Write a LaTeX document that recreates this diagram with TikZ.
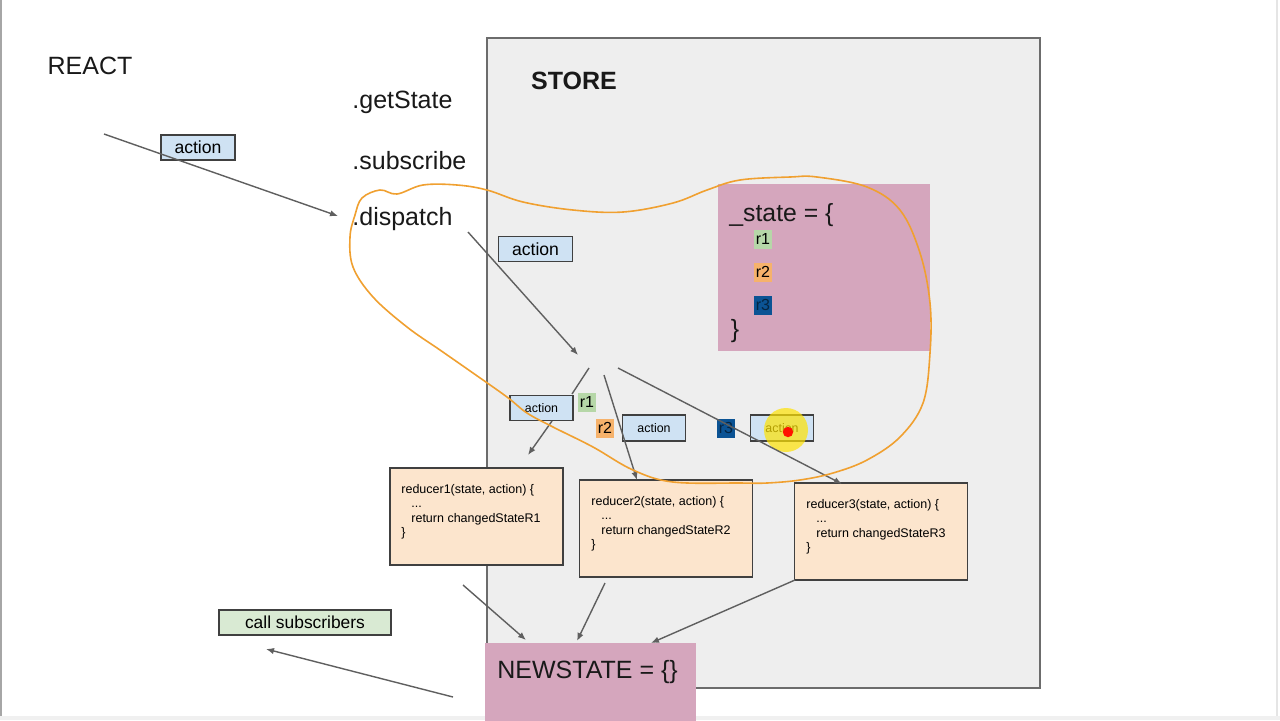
\documentclass[tikz,border=0pt]{standalone}
\usepackage{fontspec}
\setmainfont{Liberation Sans}
\usetikzlibrary{arrows.meta}
\definecolor{storegray}{HTML}{EEEEEE}
\definecolor{pinkbox}{HTML}{D5A6BD}
\definecolor{actblue}{HTML}{CFE2F3}
\definecolor{redfill}{HTML}{FCE5CD}
\definecolor{subgreen}{HTML}{D9EAD3}
\definecolor{tagone}{HTML}{B6D7A8}
\definecolor{tagtwo}{HTML}{F6B26B}
\definecolor{tagthree}{HTML}{0B5394}
\definecolor{loopcolor}{HTML}{F0A030}
\definecolor{arrowgray}{HTML}{5F5F5F}
\begin{document}
\begin{tikzpicture}[x=0.5pt,y=-0.5pt,
	big/.style={inner sep=0pt,text=black!90,font=\fontsize{12.5}{15}\selectfont},
	actbox/.style={draw=black!75,fill=actblue,line width=0.7pt,inner sep=0pt,font=\fontsize{8.8}{10}\selectfont,minimum width=37pt,minimum height=12.5pt},
	smallact/.style={actbox,font=\fontsize{6.2}{7}\selectfont,minimum width=31.5pt,minimum height=12.5pt},
	rtag/.style={inner sep=0.8pt,minimum height=9.5pt,font=\fontsize{8}{9}\selectfont},
	redbox/.style={draw=black!75,fill=redfill,line width=0.7pt,minimum width=86.5pt,minimum height=48.5pt},
	code/.style={inner sep=0pt,align=left,anchor=north west,font=\fontsize{6.25}{7.25}\selectfont},
	flow/.style={draw=arrowgray,line width=0.7pt,-{Latex[length=4pt,width=3.2pt]}}]

		\useasboundingbox (0,0) rectangle (1280,720);
		\fill[white] (0,0) rectangle (1280,720);
		\fill[gray!12] (0,716) rectangle (1280,720);
		\draw[gray!70,line width=0.6pt] (1,0) -- (1,716);
		\draw[gray!20,line width=0.6pt] (1277,0) -- (1277,716);

		%store
		\node[draw=gray!85!black,fill=storegray,line width=0.8pt,minimum width=276.5pt,minimum height=325pt] (store) at (763.5,363) {};
		\node[big,font=\fontsize{12.5}{15}\selectfont\bfseries] (storelbl) at (574,81) {STORE};

		%left texts
		\node[big] (react) at (90,66) {REACT};
		\node[big,anchor=west] (get) at (352,102) {.getState};
		\node[big,anchor=west] (sub) at (352,161) {.subscribe};
		\node[big,anchor=west] (disp) at (352,219) {.dispatch};
		\node[actbox] (act1) at (198,147.5) {action};
		\node[actbox] (act2) at (535.5,249) {action};

		%state
		\node[fill=pinkbox,minimum width=106pt,minimum height=83.5pt] (state) at (824,267.5) {};
		\node[big,anchor=west,font=\fontsize{12.4}{15}\selectfont] (stxt) at (729,215) {\_state = \{};
		\node[rtag,fill=tagone] (s1) at (763,239) {r1};
		\node[rtag,fill=tagtwo] (s2) at (763,272) {r2};
		\node[rtag,fill=tagthree,text=tagthree!45!black] (s3) at (763,305) {r3};
		\node[big] (sclose) at (735,331) {\}};

		%actions to reducers
		\node[smallact] (act3) at (541.5,408) {action};
		\node[smallact,minimum height=13pt] (act4) at (654,428) {action};
		\node[smallact,minimum height=13pt] (act5) at (782,428) {action};
		\node[rtag,fill=tagone] (t1) at (587,402) {r1};
		\node[rtag,fill=tagtwo] (t2) at (605,428) {r2};
		\node[rtag,fill=tagthree,text=tagthree!45!black] (t3) at (726,428) {r3};
		\fill[yellow!85!orange,opacity=0.7] (786,430) circle (11pt);
		\fill[red!85!orange] (788,432) circle (2.6pt);

		%reducers
		\node[redbox] (red1) at (476.5,516.5) {};
		\node[redbox] (red2) at (666,528.5) {};
		\node[redbox] (red3) at (881,531.5) {};
		\node[code] (c1) at (401,484) {reducer1(state, action) \{\\\hspace{5pt}...\\\hspace{5pt}return changedStateR1\\\}};
		\node[code] (c2) at (591,496) {reducer2(state, action) \{\\\hspace{5pt}...\\\hspace{5pt}return changedStateR2\\\}};
		\node[code] (c3) at (806,499) {reducer3(state, action) \{\\\hspace{5pt}...\\\hspace{5pt}return changedStateR3\\\}};

		%new state
		\node[fill=pinkbox,minimum width=105.5pt,minimum height=41pt,anchor=north west] (newst) at (485,643) {};
		\node[big,anchor=west] (ntxt) at (497,672) {NEWSTATE = \{\}};
		\node[draw=black!75,fill=subgreen,line width=0.7pt,minimum width=86pt,minimum height=12.5pt,inner sep=0pt,font=\fontsize{8.7}{10}\selectfont] (callsub) at (305,622.5) {call subscribers};

		%free ends
		\coordinate (p1) at (104,134);
		\coordinate (p2) at (338,216);
		\coordinate (p3) at (468,232);
		\coordinate (p4) at (578,355);
		\coordinate (p5) at (589,368);
		\coordinate (p6) at (572,394);
		\coordinate (p7) at (552,421);
		\coordinate (p8) at (528,455);
		\coordinate (p9) at (604,375);
		\coordinate (p10) at (637,480);
		\coordinate (p11) at (618,368);
		\coordinate (p12) at (842,484);
		\coordinate (p13) at (463,585);
		\coordinate (p14) at (526,640);
		\coordinate (p15) at (605,583);
		\coordinate (p16) at (577,641);
		\coordinate (p17) at (795,580);
		\coordinate (p18) at (651,643);
		\coordinate (p19) at (453,697);
		\coordinate (p20) at (266,649);

		%edges
		\draw[flow] (p1) -- (p2);
		\draw[flow] (p3) -- (p4);
		\draw[draw=arrowgray,line width=0.7pt] (p5) -- (p6);
		\draw[flow] (p7) -- (p8);
		\draw[flow] (p9) -- (p10);
		\draw[flow] (p11) -- (p12);
		\draw[flow] (p13) -- (p14);
		\draw[flow] (p15) -- (p16);
		\draw[flow] (p17) -- (p18);
		\draw[flow] (p19) -- (p20);

		%hand drawn loop
		\draw[loopcolor,line width=0.8pt] plot[smooth cycle,tension=0.6] coordinates {(355,215) (362,198) (380,190) (397,194) (423,185) (457,185) (487,190) (523,202) (573,210) (623,212) (673,203) (707,190) (740,180) (790,177) (817,177) (867,187) (900,210) (920,253) (930,303) (930,353) (923,403) (900,437) (867,460) (833,473) (800,480) (767,483) (740,483) (673,482) (633,470) (593,447) (553,427) (527,413) (507,397) (473,373) (440,350) (407,327) (373,297) (353,267) (350,237)};
		\end{tikzpicture}
\end{document}
